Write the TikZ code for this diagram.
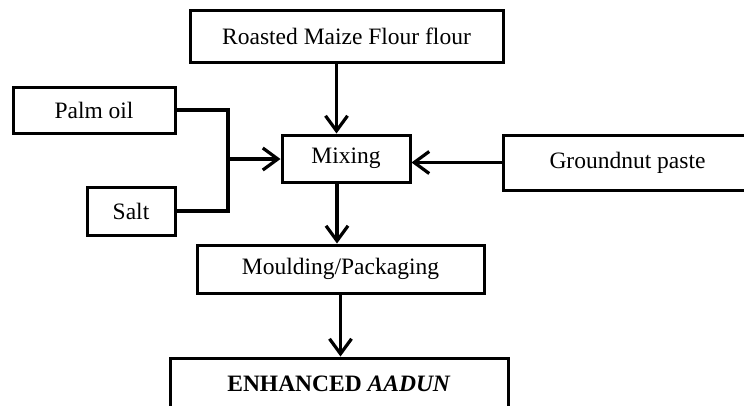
\documentclass[tikz,border=0pt]{standalone}
\usepackage{fontspec}
\setmainfont{Liberation Serif}
\usetikzlibrary{arrows.meta}

\begin{document}
\begin{tikzpicture}[x=1pt,y=-1pt,
font=\fontsize{23.5}{28}\selectfont,
line width=3pt,
box/.style={draw, rectangle, inner sep=0pt}]
\tikzstyle{line} = [line width=3.2pt]
\tikzstyle{ar} = [line width=3.2pt, -{Straight Barb[length=15pt,width=22pt]}]
\useasboundingbox (0,0) rectangle (744,405);

\node[box, minimum width=313pt, minimum height=52pt](flour) at (346.5,36){Roasted Maize Flour flour};
\node[box, minimum width=162pt, minimum height=46pt](palm) at (94,110){Palm oil};
\node[box, minimum width=88pt, minimum height=48pt](salt) at (131,211){Salt};
\node[box, minimum width=128pt, minimum height=47pt](mix) at (346,158.5){Mixing};
\node[box, minimum width=249pt, minimum height=55pt](ground) at (627.5,162.5){Groundnut paste};
\node[box, minimum width=287pt, minimum height=48pt](mould) at (340.5,269){Moulding/Packaging};
\node[box, minimum width=338pt, minimum height=52pt](enh) at (339,384){\textbf{ENHANCED \textit{AADUN}}};

% palm oil and salt join before mixing
\coordinate(join) at (228,159);
\draw[line] (palm.east) -| (join) |- (salt.east);
\draw[ar] (join) -- (join -| mix.west);

\draw[ar] ([xshift=-10pt]flour.south) -- ([xshift=-10pt]flour.south |- mix.north);
\draw[ar] (ground.west) -- (ground.west -| mix.east);
\draw[ar] ([xshift=-9pt]mix.south) -- ([xshift=-9pt]mix.south |- mould.north);
\draw[ar] (mould.south) -- (mould.south |- enh.north);

\end{tikzpicture}
\end{document}
